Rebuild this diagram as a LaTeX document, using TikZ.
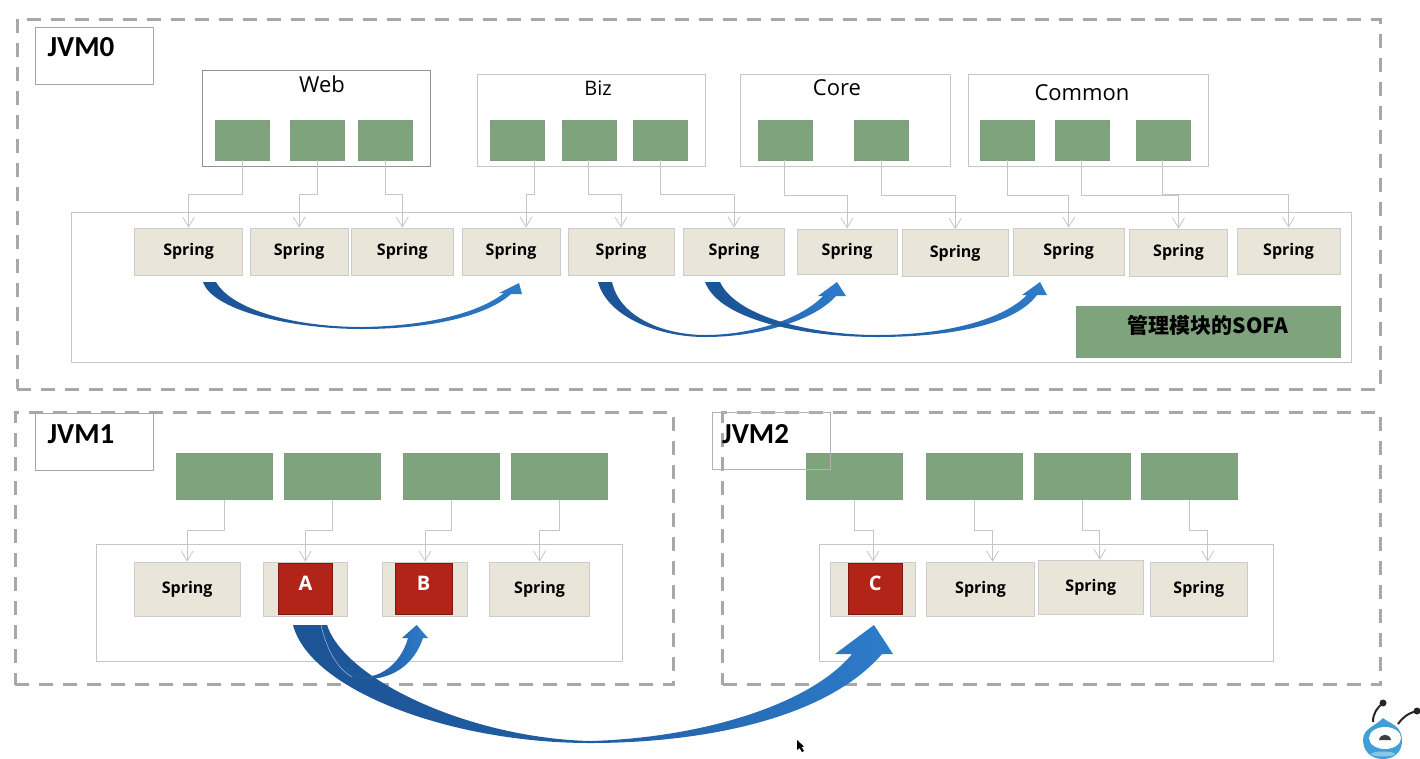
\documentclass[tikz,border=0pt]{standalone}
\usepackage{fontspec}
\setmainfont{Open Sans}
\newfontfamily\jvmfont{Carlito}
\newfontfamily\cjk{Noto Sans CJK SC}
\usetikzlibrary{arrows.meta,positioning}
\definecolor{beancolor}{RGB}{127, 163, 124}
\definecolor{springcolor}{RGB}{233, 229, 216}
\definecolor{redcolor}{RGB}{178, 36, 24}
\definecolor{dashcolor}{RGB}{168, 168, 168}
\definecolor{swdark}{RGB}{28, 84, 150}
\definecolor{swlight}{RGB}{46, 124, 203}
\definecolor{mascot}{RGB}{62, 160, 215}

\begin{document}
\begin{tikzpicture}[
    x=1pt, y=-1pt,
    jvmbox/.style={draw=dashcolor, line width=3pt, dash pattern=on 14pt off 10pt, inner sep=0pt},
    jvmtag/.style={draw=gray!70, line width=1pt, minimum width=118pt, minimum height=57pt, inner sep=0pt},
    jvmname/.style={font=\jvmfont\bfseries\fontsize{29}{30}\selectfont, inner sep=0pt},
    holder/.style={draw=gray!45, line width=.8pt, inner sep=0pt},
    title/.style={font=\fontsize{22}{24}\selectfont, inner sep=0pt},
    bean/.style={fill=beancolor, draw=beancolor!85!gray, line width=.6pt, minimum width=54pt, minimum height=40pt, inner sep=0pt},
    widebean/.style={bean, minimum width=96pt, minimum height=46pt},
    spring/.style={fill=springcolor, draw=gray!40, line width=.8pt, minimum height=47pt, inner sep=0pt, font=\bfseries\fontsize{16}{18}\selectfont},
    lowspring/.style={spring, minimum height=54.5pt},
    redbox/.style={fill=redcolor, draw=redcolor!70!black, line width=.8pt, minimum height=51pt, inner sep=0pt, text=white, font=\bfseries\fontsize{20}{22}\selectfont},
    link/.style={-{Straight Barb[length=10pt,width=12pt]}, draw=gray!45, line width=.8pt},
    elbow/.style={to path={-- ++(0,#1) -| (\tikztotarget)}},
    swoosh/.style={left color=swdark, right color=swlight, middle color=swdark!75!swlight, draw=none}
]
    \useasboundingbox (0,0) rectangle (1420,758);

    \node[jvmbox, minimum width=1363pt, minimum height=370pt] (jvm0) at (698.5,204) {};
    \node[jvmbox, minimum width=658pt, minimum height=271.7pt] (jvm1) at (344,548.8) {};
    \node[jvmbox, minimum width=658.3pt, minimum height=271.7pt] (jvm2) at (1051.8,548.8) {};

    \node[jvmtag] (tag0) at (94,55.5) {};
    \node[jvmtag] (tag1) at (94,441.5) {};
    \node[jvmname] (name0) at (81,47) {JVM0};
    \node[jvmname] (name1) at (81,434) {JVM1};

    \node[holder, draw=gray!85, minimum width=228pt, minimum height=96pt] (web) at (316,118) {};
    \node[holder, minimum width=228pt, minimum height=92pt] (biz) at (591.8,120) {};
    \node[holder, minimum width=210.5pt, minimum height=92pt] (core) at (845.2,120) {};
    \node[holder, minimum width=239.5pt, minimum height=92pt] (common) at (1088.3,120) {};
    \node[title] (webt) at (322,84) {Web};
    \node[title, font=\fontsize{20}{24}\selectfont] (bizt) at (598,88) {Biz};
    \node[title] (coret) at (837,88) {Core};
    \node[title] (commont) at (1082,93) {Common};

    \node[bean] (b01) at (242,140) {};
    \node[bean] (b02) at (317,140) {};
    \node[bean] (b03) at (385.5,140) {};
    \node[bean] (b04) at (517,140) {};
    \node[bean] (b05) at (588.8,140) {};
    \node[bean] (b06) at (660,140) {};
    \node[bean] (b07) at (784.8,140) {};
    \node[bean] (b08) at (881.3,140) {};
    \node[bean] (b09) at (1007.5,140) {};
    \node[bean] (b10) at (1081.8,140) {};
    \node[bean] (b11) at (1162.8,140) {};

    \node[holder, minimum width=1280pt, minimum height=150pt] (tray0) at (711,287) {};
    \node[spring, minimum width=108pt] (s01) at (188.6,251.5) {Spring};
    \node[spring, minimum width=97.5pt] (s02) at (299.2,251.5) {Spring};
    \node[spring, minimum width=102.5pt] (s03) at (402.3,251.5) {Spring};
    \node[spring, minimum width=98pt] (s04) at (511,251.5) {Spring};
    \node[spring, minimum width=106pt] (s05) at (621,251.5) {Spring};
    \node[spring, minimum width=101.5pt] (s06) at (734,251.5) {Spring};
    \node[spring, minimum width=100pt, minimum height=45pt] (s07) at (847,251.5) {Spring};
    \node[spring, minimum width=105.5pt] (s08) at (955.2,253) {Spring};
    \node[spring, minimum width=110.5pt] (s09) at (1068.7,251.5) {Spring};
    \node[spring, minimum width=98pt] (s10) at (1178.5,252.5) {Spring};
    \node[spring, minimum width=103pt, minimum height=46pt] (s11) at (1288.5,251) {Spring};
    \node[bean, minimum width=264pt, minimum height=51pt, font=\cjk\bfseries\fontsize{21}{22}\selectfont] (sofa) at (1208,331.5) {\raisebox{15pt}{管理模块的SOFA}};

    \draw[link] (b01.south) to[elbow=34] (s01.north);
    \draw[link] (b02.south) to[elbow=34] (s02.north);
    \draw[link] (b03.south) to[elbow=34] (s03.north);
    \draw[link] (b04.south) ++(17,0) to[elbow=34] ([xshift=15pt]s04.north);
    \draw[link] (b05.south) to[elbow=34] (s05.north);
    \draw[link] (b06.south) to[elbow=34] (s06.north);
    \draw[link] (b07.south) to[elbow=35] (s07.north);
    \draw[link] (b08.south) to[elbow=35] (s08.north);
    \draw[link] (b09.south) to[elbow=35] (s09.north);
    \draw[link] (b10.south) to[elbow=35] (s10.north);
    \draw[link] (b11.south) to[elbow=34] (s11.north);

    \node[widebean] (b21) at (224.6,476.5) {};
    \node[widebean] (b22) at (332.3,476.5) {};
    \node[widebean] (b23) at (451.5,476.5) {};
    \node[widebean] (b24) at (559.5,476.5) {};
    \node[holder, minimum width=526.5pt, minimum height=117pt] (tray1) at (359.2,602.5) {};
    \node[lowspring, minimum width=105.5pt] (s21) at (187.2,589.3) {Spring};
    \node[lowspring, minimum width=83.5pt] (s22) at (305.3,589.3) {};
    \node[lowspring, minimum width=85pt] (s23) at (425,589.3) {};
    \node[lowspring, minimum width=100pt] (s24) at (539.5,589.3) {Spring};
    \node[redbox, minimum width=54pt] (ra) at (305.5,588.5) {\raisebox{11pt}{A}};
    \node[redbox, minimum width=56.5pt] (rb) at (423.7,588.5) {\raisebox{11pt}{B}};

    \draw[link] (b21.south) to[elbow=31] (s21.north);
    \draw[link] (b22.south) to[elbow=31] (s22.north);
    \draw[link] (b23.south) to[elbow=31] (s23.north);
    \draw[link] (b24.south) to[elbow=31] (s24.north);

    \node[widebean] (b31) at (854.7,476.5) {};
    \node[widebean] (b32) at (974.3,476.5) {};
    \node[widebean] (b33) at (1082,476.5) {};
    \node[widebean] (b34) at (1189.5,476.5) {};
    \node[holder, minimum width=454pt, minimum height=117pt] (tray2) at (1046,602.5) {};
    \node[lowspring, minimum width=85pt] (s31) at (873,589.3) {};
    \node[lowspring, minimum width=108pt] (s32) at (980.5,589.3) {Spring};
    \node[lowspring, minimum width=105pt] (s33) at (1090.8,587.3) {Spring};
    \node[lowspring, minimum width=97.5pt] (s34) at (1198.8,589.3) {Spring};
    \node[redbox, minimum width=53.5pt] (rc) at (875.3,588.5) {\raisebox{11pt}{C}};

    \draw[link] (b31.south) to[elbow=31] (s31.north);
    \draw[link] (b32.south) to[elbow=31] ([xshift=12pt]s32.north);
    \draw[link] (b33.south) to[elbow=31] ([xshift=9pt]s33.north);
    \draw[link] (b34.south) to[elbow=31] ([xshift=9pt]s34.north);

    \node[jvmtag, draw=gray!60] (tag2) at (771.2,441) {};
    \node[jvmname, anchor=west] (name2) at (722,434) {JVM2};

    \shade[swoosh] (203,282) .. controls (212,310) and (290,329) .. (362,329) .. controls (430,329) and (487,316) .. (511,294) -- (522,294) -- (519,283) -- (499,293) -- (504,293) .. controls (480,312) and (430,326) .. (362,327) .. controls (295,327) and (232,310) .. (216,282) -- cycle;
    \shade[swoosh] (598,282) .. controls (608,318) and (660,337) .. (705,337) .. controls (760,337) and (815,320) .. (836,296) -- (846,296) -- (837,282) -- (818,296) -- (823,296) .. controls (800,320) and (750,335) .. (705,335) .. controls (665,335) and (620,318) .. (612,282) -- cycle;
    \shade[swoosh] (705,282) .. controls (720,322) and (810,337) .. (877,337) .. controls (950,337) and (1015,325) .. (1037,295) -- (1047,295) -- (1040,282) -- (1022,295) -- (1027,295) .. controls (1000,322) and (940,335) .. (877,335) .. controls (815,335) and (737,318) .. (720,282) -- cycle;
    \shade[swoosh] (293,625) .. controls (310,690) and (450,743) .. (590,743) .. controls (700,743) and (825,720) .. (882,654) -- (893,654) -- (874,625) -- (835,654) -- (852,654) .. controls (810,705) and (700,738) .. (590,741) .. controls (470,738) and (345,680) .. (327,625) -- cycle;
    \shade[swoosh] (321,625) .. controls (328,655) and (345,679) .. (367,679) .. controls (392,679) and (414,665) .. (423,638) -- (428,638) -- (416.6,625) -- (402,638) -- (408,638) .. controls (402,660) and (385,676) .. (365,677) .. controls (350,676) and (333,655) .. (327,625) -- cycle;
    \draw[white, opacity=.6, line width=.5pt] (321,625) .. controls (328,655) and (340,670) .. (352,677);

    \fill[black] (797,740) -- (797,750) -- (799.5,748) -- (802,752) -- (804,751) -- (801.5,747) -- (804,746.5) -- cycle;

    \begin{scope}
        \clip (1340,690) rectangle (1420,758);
        \draw[black!85, line width=2pt] (1373,722) .. controls (1373,713) and (1377,708) .. (1383,703);
        \draw[black!85, line width=2pt] (1398,724) .. controls (1402,718) and (1408,713) .. (1417,711);
        \fill[black!85] (1383,703) circle (3.5pt);
        \fill[black!85] (1417,711) circle (3.5pt);
        \fill[mascot] (1383,718) .. controls (1390,724) and (1402,725) .. (1402,741) .. controls (1402,752) and (1394,759) .. (1383,759) .. controls (1370,759) and (1363,750) .. (1363,740) .. controls (1363,728) and (1376,726) .. (1383,718) -- cycle;
        \fill[mascot!60!white] (1383,754) ellipse (12pt and 2.5pt);
        \fill[white] (1385,738) ellipse (16pt and 11pt);
        \fill[black!75] (1379,740) .. controls (1380,733) and (1390,733) .. (1391,740) -- cycle;
    \end{scope}
\end{tikzpicture}
\end{document}
